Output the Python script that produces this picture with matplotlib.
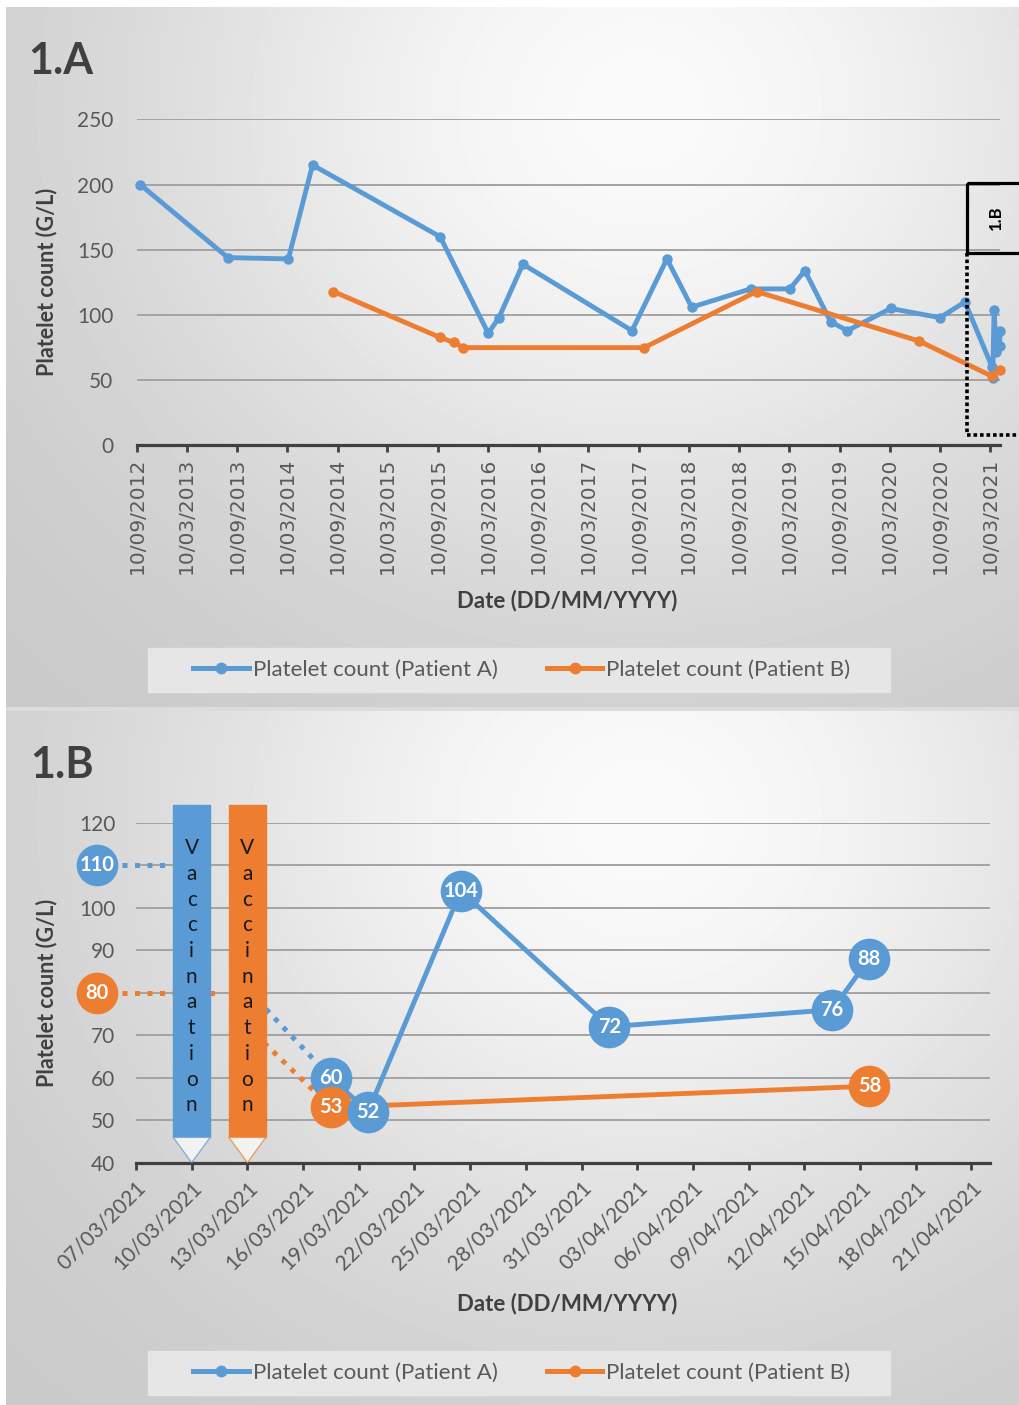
import matplotlib
matplotlib.use("Agg")
import matplotlib.pyplot as plt
import matplotlib.dates as mdates
from matplotlib.patches import Rectangle, Polygon
from matplotlib.lines import Line2D
from matplotlib.transforms import Affine2D
import numpy as np
import pandas as pd

# ---- data ----
dates_a = ["21/09/2012", "06/08/2013", "14/03/2014", "10/06/2014", "17/09/2015",
           "10/03/2016", "18/04/2016", "14/07/2016", "15/08/2017", "20/12/2017",
           "20/03/2018", "20/10/2018", "12/03/2019", "06/05/2019", "07/08/2019",
           "07/10/2019", "13/03/2020", "08/09/2020", "08/12/2020", "17/03/2021",
           "19/03/2021", "24/03/2021", "01/04/2021", "13/04/2021", "15/04/2021"]
count_a = [200, 144, 143, 215, 160, 86, 98, 139, 88, 143, 106, 120, 120, 134, 95,
           88, 105, 98, 110, 60, 52, 104, 72, 76, 88]

dates_b = ["25/08/2014", "15/09/2015", "05/11/2015", "11/12/2015", "28/09/2017",
           "11/11/2018", "25/06/2020", "17/03/2021", "15/04/2021"]
count_b = [118, 83, 79, 75, 75, 118, 80, 53, 58]

vacc_date_a = "10/03/2021"
vacc_date_b = "13/03/2021"

ticks_top = ["10/09/2012", "10/03/2013", "10/09/2013", "10/03/2014", "10/09/2014",
             "10/03/2015", "10/09/2015", "10/03/2016", "10/09/2016", "10/03/2017",
             "10/09/2017", "10/03/2018", "10/09/2018", "10/03/2019", "10/09/2019",
             "10/03/2020", "10/09/2020", "10/03/2021"]
ticks_bot = ["07/03/2021", "10/03/2021", "13/03/2021", "16/03/2021", "19/03/2021",
             "22/03/2021", "25/03/2021", "28/03/2021", "31/03/2021", "03/04/2021",
             "06/04/2021", "09/04/2021", "12/04/2021", "15/04/2021", "18/04/2021",
             "21/04/2021"]
xlim_top = ["10/09/2012", "15/04/2021"]
xlim_bot = ["07/03/2021", "22/04/2021"]

labels = ["Platelet count (Patient A)", "Platelet count (Patient B)"]

BLUE = "#5b9bd5"
ORANGE = "#ed7d31"
GRID = "#a3a3a3"
DARK = "#404040"
TICK = "#595959"


def dn(s):
    return mdates.date2num(pd.to_datetime(s, dayfirst=True))


xa = dn(dates_a) + 0.5
xb = dn(dates_b) + 0.5
ya = np.array(count_a)
yb = np.array(count_b)

plt.rcParams["font.family"] = ["Lato", "DejaVu Sans"]

W, H = 1019, 1405
fig = plt.figure(figsize=(W / 100, H / 100), dpi=100)
pix = Affine2D().scale(1 / W, -1 / H).translate(0, 1) + fig.transFigure

# ---- background panels with soft radial shading ----
bg = fig.add_axes([0, 0, 1, 1], zorder=-10)
yy, xx = np.mgrid[0:H, 0:W]
img = np.ones((H, W))
for y0, y1, cy in [(7, 707, 110), (711, H, 820)]:
    r2 = ((xx - 640) / 520.0) ** 2 + ((yy - cy) / 470.0) ** 2
    shade = 0.78 + 0.2 * np.exp(-r2)
    rows = slice(y0, y1)
    img[rows, 6:] = shade[rows, 6:]
img[707:711, 6:] = 0.86
bg.imshow(img, cmap="gray", vmin=0, vmax=1, aspect="auto", interpolation="bilinear")
bg.set_axis_off()


def style_axes(ax):
    for s in ["top", "right", "left"]:
        ax.spines[s].set_visible(False)
    ax.spines["bottom"].set_color(DARK)
    ax.spines["bottom"].set_linewidth(2.3)
    ax.spines["bottom"].set_zorder(2.5)
    ax.set_facecolor("none")
    ax.yaxis.grid(True, color=GRID, lw=1.4)
    ax.set_axisbelow(True)
    ax.tick_params(axis="y", length=0, labelsize=15, labelcolor=TICK)
    ax.tick_params(axis="x", direction="out", length=5, width=2, color=DARK,
                   labelcolor=TICK)


# ---- 1.A ----
ax1 = fig.add_axes([137 / W, 1 - 445.5 / H, 863 / W, (445.5 - 119.3) / H])
style_axes(ax1)
ax1.set_ylim(0, 250)
ax1.set_yticks(range(0, 251, 50))
ax1.tick_params(axis="y", pad=17)
ax1.set_xlim(dn(xlim_top[0]), dn(xlim_top[1]))
ax1.set_xticks(dn(ticks_top))
ax1.set_xticklabels(ticks_top, rotation=90, fontsize=14.5, family="DejaVu Sans")
ax1.tick_params(axis="x", pad=4)
ax1.plot(xa, ya, color=BLUE, lw=3.5, marker="o", ms=6.5, zorder=3, clip_on=False)
ax1.plot(xb, yb, color=ORANGE, lw=3.5, marker="o", ms=6.5, zorder=3, clip_on=False)
ax1.set_ylabel("Platelet count (G/L)", fontsize=15.5, fontweight="bold", color=DARK)
ax1.yaxis.set_label_coords(-0.0927, 0.5)

fig.text(28, 74, "1.A", transform=pix, fontsize=31, fontweight="bold", color=DARK,
         va="baseline", ha="left")
fig.text(567, 601, "Date (DD/MM/YYYY)", transform=pix, fontsize=16, fontweight="bold",
         color=DARK, ha="center", va="center")

# zoom marker "1.B"
fig.add_artist(Rectangle((967, 183), 70, 70, transform=pix, fill=False, ec="black", lw=2.3))
fig.text(996, 218, "1.B", transform=pix, rotation=90, fontsize=12, fontweight="bold",
         color="black", ha="center", va="center")
fig.add_artist(Line2D([967, 967, 1019], [253, 435, 435], transform=pix, color="black",
                      lw=2.6, linestyle=(0, (1, 0.8))))

# ---- 1.B ----
ax2 = fig.add_axes([136 / W, 1 - 1162.7 / H, 854 / W, (1162.7 - 822.7) / H])
style_axes(ax2)
ax2.set_ylim(40, 120)
x0, x1 = dn(xlim_bot[0]), dn(xlim_bot[1])
ax2.set_xlim(x0, x1)
ax2.set_xticks(dn(ticks_bot))
ax2.set_xticklabels(ticks_bot, rotation=45, ha="right", rotation_mode="anchor",
                    fontsize=15)
ax2.tick_params(axis="x", pad=6)
ax2.tick_params(axis="y", pad=15)
ax2.set_ylabel("Platelet count (G/L)", fontsize=15.5, fontweight="bold", color=DARK)
ax2.yaxis.set_label_coords(-0.0925, 0.5)

va_x = dn(vacc_date_a)
vb_x = dn(vacc_date_b)
ma = xa >= x0
mb = xb >= x0
pre_a = ya[xa < va_x][-1]
pre_b = yb[xb < vb_x][-1]

# tick labels hidden behind the pre-vaccination bubbles are left blank
yt = list(range(40, 121, 10))
ax2.set_yticks(yt)
ax2.set_yticklabels(["" if v in (pre_a, pre_b) else str(v) for v in yt])

ax2.plot(xa[ma], ya[ma], color=BLUE, lw=3.5, zorder=3)
ax2.plot(xb[mb], yb[mb], color=ORANGE, lw=3.5, zorder=3)

dot = dict(lw=3.6, linestyle=(0, (1, 1.5)), dash_capstyle="butt", clip_on=False)
lab_x = x0 - 2.1
ax2.plot([lab_x, va_x - 1.35], [pre_a, pre_a], color=BLUE, zorder=2, **dot)
ax2.plot([lab_x, vb_x - 1.5], [pre_b, pre_b], color=ORANGE, zorder=2, **dot)
ax2.plot([vb_x - 0.85, xa[ma][0]], [84.7, ya[ma][0]], color=BLUE, zorder=2, **dot)
ax2.plot([vb_x + 0.9, xb[mb][0]], [68.2, yb[mb][0]], color=ORANGE, zorder=2, **dot)

# vaccination markers
for vx, col in [(va_x, BLUE), (vb_x, ORANGE)]:
    ax2.add_patch(Rectangle((vx - 1, 46), 2, 124.2 - 46, color=col, zorder=4,
                            clip_on=False))
    ax2.add_patch(Polygon([(vx - 1, 46), (vx, 40), (vx + 1, 46)], closed=True,
                          facecolor=(1, 1, 1, 0.12), edgecolor=col, lw=1, alpha=0.7,
                          zorder=4, clip_on=False))
    for i, ch in enumerate("Vaccination"):
        ax2.text(vx, 114 - i * 6.05, ch, ha="center", va="center", fontsize=15,
                 color="#1a1a1a", zorder=5)

# value bubbles
pts = [(x, 0, y, BLUE) for x, y in zip(xa[ma], ya[ma])]
pts += [(x, 1, y, ORANGE) for x, y in zip(xb[mb], yb[mb])]
pts.sort(key=lambda p: (p[0], p[1]))
pts = [(lab_x, 0, pre_a, BLUE), (lab_x, 1, pre_b, ORANGE)] + pts
for i, (x, s, y, col) in enumerate(pts):
    z = 6 + i * 0.01
    ax2.scatter([x], [y], s=900, color=col, zorder=z, clip_on=False, linewidths=0)
    ax2.text(x, y, str(int(y)), ha="center", va="center", color="white",
             fontsize=14.5, fontweight="bold", zorder=z + 0.005)

fig.text(30, 778, "1.B", transform=pix, fontsize=31, fontweight="bold", color=DARK,
         va="baseline", ha="left")
fig.text(567, 1304, "Date (DD/MM/YYYY)", transform=pix, fontsize=16, fontweight="bold",
         color=DARK, ha="center", va="center")

# ---- legends ----
handles = [Line2D([], [], color=BLUE, lw=3.6, marker="o", ms=7.5),
           Line2D([], [], color=ORANGE, lw=3.6, marker="o", ms=7.5)]
for top, bot in [(648, 692), (1351, 1395)]:
    fig.add_artist(Rectangle((148, top), 742, bot - top, transform=pix, color="#e6e6e6",
                             zorder=0))
    cx, cy = (522 / W, 1 - (top + bot) / 2 / H)
    fig.legend(handles, labels, loc="center", bbox_to_anchor=(cx, cy), ncol=2,
               frameon=False, fontsize=16, handlelength=2.5, handletextpad=0.18,
               columnspacing=2.2, labelcolor=TICK)

fig.savefig("out.png", dpi=100)
